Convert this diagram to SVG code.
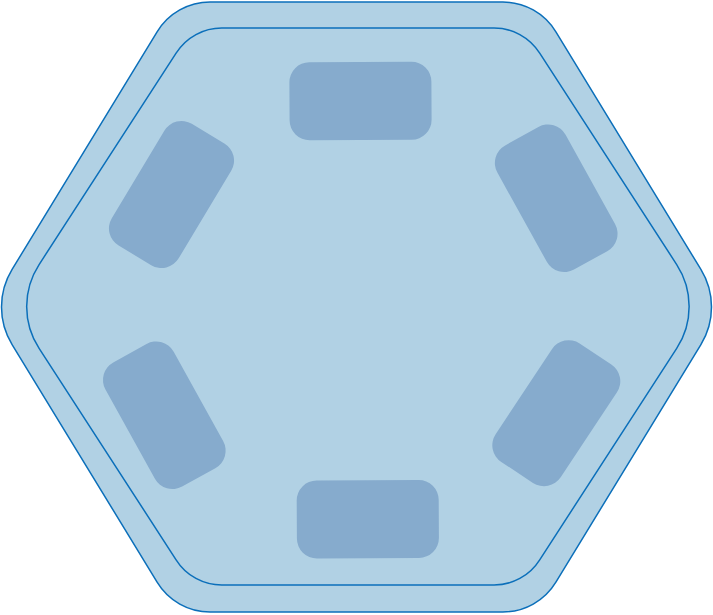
<svg xmlns="http://www.w3.org/2000/svg" width="713" height="615" viewBox="0 0 713 615">
  <style>
    .rim { fill: #b1d1e4; stroke: #0b6fba; stroke-width: 1.5; }
    .seat { fill: #86abcd; stroke: none; }
  </style>
  <defs>
    <rect id="seatShape" x="-71" y="-39" width="142" height="78" rx="20" ry="20"/>
  </defs>
  <rect width="713" height="615" fill="#ffffff"/>
  <g id="outer-rim">
    <path class="rim" d="M210.3,2 L502.7,2 A62,62 0 0 1 555.9,31.9 L700.9,269.4 A72,72 0 0 1 700.9,344.6 L555.9,582.1 A62,62 0 0 1 502.7,612 L210.3,612 A62,62 0 0 1 157.1,582.1 L12.1,344.6 A72,72 0 0 1 12.1,269.4 L157.1,31.9 A62,62 0 0 1 210.3,2 Z"/>
  </g>
  <g id="inner-pool">
    <path class="rim" d="M222.4,28 L493.4,28 A54,54 0 0 1 539.7,53.2 L676.7,264.55 A77,77 0 0 1 676.7,348.45 L539.7,559.8 A54,54 0 0 1 493.4,585 L222.4,585 A54,54 0 0 1 176.1,559.8 L39.1,348.45 A77,77 0 0 1 39.1,264.55 L176.1,53.2 A54,54 0 0 1 222.4,28 Z"/>
  </g>
  <g id="seats">
    <g id="seat-top"><use href="#seatShape" class="seat" transform="translate(360.5,101) rotate(-0.3)"/></g>
    <g id="seat-upper-right"><use href="#seatShape" class="seat" transform="translate(556.2,198.3) rotate(61)"/></g>
    <g id="seat-lower-right"><use href="#seatShape" class="seat" transform="translate(556.3,413.2) rotate(-56.5)"/></g>
    <g id="seat-bottom"><use href="#seatShape" class="seat" transform="translate(367.8,519.2) rotate(-0.3)"/></g>
    <g id="seat-lower-left"><use href="#seatShape" class="seat" transform="translate(164.3,415.3) rotate(61)"/></g>
    <g id="seat-upper-left"><use href="#seatShape" class="seat" transform="translate(171.5,194.5) rotate(-59)"/></g>
  </g>
  <g id="connectors"/>
</svg>
